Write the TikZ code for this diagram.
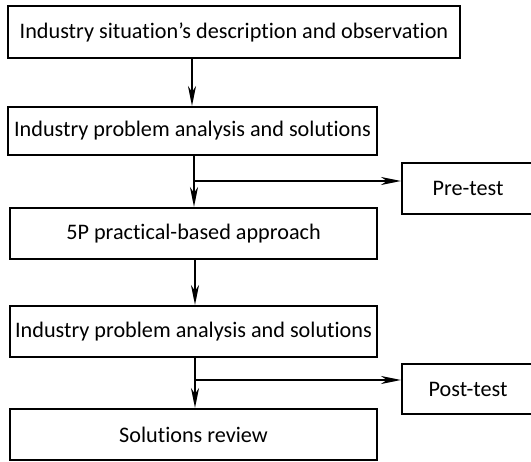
\documentclass[tikz,border=0pt]{standalone}
\usepackage{fontspec}
\setmainfont{Carlito}[Ligatures=NoCommon]
\usetikzlibrary{arrows.meta}
\begin{document}
\begin{tikzpicture}[x=1pt,y=-1pt,
  box/.style={draw, line width=2pt, rectangle, inner sep=0pt, font=\fontsize{22.2}{26}\selectfont},
  arr/.style={line width=2pt, -{Stealth[length=20pt,width=8pt,inset=6pt]}}]
\useasboundingbox (0,0) rectangle (531,462);
\node[box, minimum width=452pt, minimum height=52pt] (b1) at (234,32) {Industry situation’s description and observation};
\node[box, minimum width=369pt, minimum height=48pt] (b2) at (192.5,131) {Industry problem analysis and solutions};
\node[box, minimum width=367pt, minimum height=51pt] (b3) at (193.5,233.5) {5P practical-based approach};
\node[box, minimum width=367pt, minimum height=51pt] (b4) at (193.5,331.5) {Industry problem analysis and solutions};
\node[box, minimum width=367pt, minimum height=51pt] (b5) at (193.5,434.5) {Solutions review};
\node[box, minimum width=132pt, minimum height=51pt] (pre) at (468,188.5) {Pre-test};
\node[box, minimum width=132pt, minimum height=50pt] (post) at (468,389) {Post-test};
\coordinate (j1) at (194,181);
\coordinate (j2) at (195,380);
\draw[arr] (b1.south -| 192,0) -- (192,106);
\draw[arr] (b2.south -| j1) -- (b3.north -| j1);
\draw[arr] (b3.south -| j2) -- (b4.north -| j2);
\draw[arr] (b4.south -| j2) -- (b5.north -| j2);
\draw[arr] (j1) -- (pre.west |- j1);
\draw[arr] (j2) -- (post.west |- j2);
\end{tikzpicture}
\end{document}
